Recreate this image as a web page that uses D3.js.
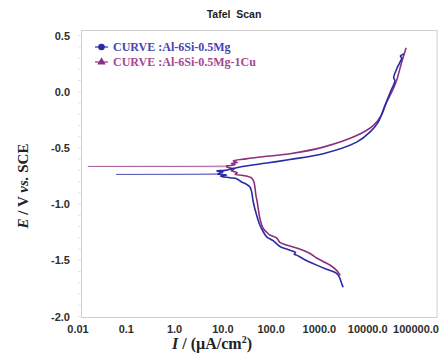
<!DOCTYPE html>
<html><head><meta charset="utf-8">
<script src="https://cdn.jsdelivr.net/npm/d3@7"></script>
<style>html,body{margin:0;padding:0;background:#fff;}svg{display:block;}</style>
</head><body>
<svg id="c" width="446" height="354"></svg>
<script>
// ---- data: [current density µA/cm², potential V vs SCE] ----
const seriesNames = ["CURVE :Al-6Si-0.5Mg", "CURVE :Al-6Si-0.5Mg-1Cu"];
const xTickValues = [0.01, 0.1, 1, 10, 100, 1000, 10000, 100000];
const xTickLabels = ["0.01", "0.1", "1.0", "10.0", "100.0", "1000.0", "10000.0", "100000.0"];
const yTickValues = [0.5, 0.0, -0.5, -1.0, -1.5, -2.0];
const yTickLabels = ["0.5", "0.0", "-0.5", "-1.0", "-1.5", "-2.0"];

const blueCathodic = [[3069,-1.734],[2800,-1.690],[2655,-1.660],[2270,-1.616],[1400,-1.580],[875,-1.543],[500,-1.495],[337,-1.454],[300,-1.447],[320,-1.430],[245,-1.410],[152,-1.377],[110,-1.325],[81,-1.291],[68.6,-1.246],[58.6,-1.188],[50.1,-1.099],[42.6,-0.981],[39.5,-0.892],[36.4,-0.848],[31.1,-0.824],[24.5,-0.803],[19.3,-0.774],[14,-0.765],[9,-0.752],[12,-0.742],[8,-0.735]];
const blueTail = [[8,-0.735],[3,-0.736],[0.6,-0.736],[0.061,-0.736],[0.4,-0.735],[3,-0.733],[8,-0.730]];
const blueAnodic = [[8,-0.730],[10,-0.715],[7.5,-0.705],[11,-0.700],[14,-0.690],[22.6,-0.670],[81,-0.635],[245,-0.603],[1199,-0.552],[5890,-0.449],[11100,-0.360],[16500,-0.271],[22700,-0.124],[31300,0.024],[33700,0.053],[36600,0.098],[34500,0.125],[39600,0.200],[42800,0.232],[50400,0.300],[47500,0.318],[54300,0.334]];

const purpleCathodic = [[2655,-1.630],[2270,-1.590],[1649,-1.542],[875,-1.480],[636,-1.439],[337,-1.390],[152,-1.340],[130,-1.300],[94,-1.275],[81,-1.250],[68.6,-1.217],[58.6,-1.129],[54,-1.040],[51.5,-0.981],[48.4,-0.922],[44,-0.803],[39.5,-0.768],[26.4,-0.745],[18,-0.735],[20,-0.720],[15,-0.705],[17,-0.690],[13,-0.675],[12,-0.668]];
const purpleTail = [[12,-0.668],[2,-0.666],[0.3,-0.665],[0.016,-0.665],[0.2,-0.664],[3,-0.663],[12,-0.660]];
const purpleAnodic = [[12,-0.660],[18,-0.650],[15,-0.640],[20,-0.630],[16.4,-0.615],[30,-0.598],[81,-0.575],[245,-0.552],[1199,-0.493],[5890,-0.390],[13000,-0.301],[19000,-0.213],[24600,-0.094],[33700,0.024],[39600,0.100],[50400,0.261],[61800,0.385]];

const colors = ["#2a2aa6", "#8c2f7e"];
const legendTextColors = ["#4545b0", "#a44892"];

const svg = d3.select("#c");
const x = d3.scaleLog().domain([0.01, 100000]).range([78, 416]);
const y = d3.scaleLinear().domain([-2, 0.5]).range([316.5, 35.5]);

// frame
svg.append("rect").attr("x", 81.5).attr("y", 30.5).attr("width", 355.5).attr("height", 287)
  .attr("fill", "none").attr("stroke", "#cfcfcf").attr("stroke-width", 1);

// faint minor ticks on left axis
const minor = d3.range(-2, 0.51, 0.1);
svg.selectAll(".mt").data(minor).enter().append("line")
  .attr("x1", 78).attr("x2", 81.5)
  .attr("y1", d => y(d)).attr("y2", d => y(d))
  .attr("stroke", "#e2e2e2");

// y tick labels
svg.selectAll(".yl").data(yTickValues).enter().append("text")
  .attr("x", 70).attr("y", d => y(d) + 4)
  .attr("text-anchor", "end")
  .attr("font-family", "Liberation Sans, Arial, sans-serif")
  .attr("font-weight", "bold").attr("font-size", 11).attr("fill", "#2e2e2e")
  .text((d, i) => yTickLabels[i]);

// x tick labels
svg.selectAll(".xl").data(xTickValues).enter().append("text")
  .attr("x", d => x(d)).attr("y", 333)
  .attr("text-anchor", "middle")
  .attr("font-family", "Liberation Sans, Arial, sans-serif")
  .attr("font-weight", "bold").attr("font-size", 11).attr("fill", "#2e2e2e")
  .text((d, i) => xTickLabels[i]);

// title
svg.append("text").attr("x", 234).attr("y", 18).attr("text-anchor", "middle")
  .attr("font-family", "Liberation Sans, Arial, sans-serif")
  .attr("font-weight", "bold").attr("font-size", 10.5).attr("fill", "#222")
  .attr("xml:space", "preserve").style("white-space", "pre")
  .text("Tafel  Scan");

// axis titles
const yt = svg.append("text").attr("transform", "translate(28,186) rotate(-90)")
  .attr("text-anchor", "middle")
  .attr("font-family", "Liberation Serif, Times New Roman, serif")
  .attr("font-weight", "bold").attr("font-size", 15).attr("fill", "#222");
yt.append("tspan").attr("font-style", "italic").text("E");
yt.append("tspan").text(" / V ");
yt.append("tspan").attr("font-style", "italic").text("vs.");
yt.append("tspan").text(" SCE");

const xt = svg.append("text").attr("x", 212).attr("y", 349)
  .attr("text-anchor", "middle")
  .attr("font-family", "Liberation Serif, Times New Roman, serif")
  .attr("font-weight", "bold").attr("font-size", 16).attr("fill", "#222");
xt.append("tspan").attr("font-style", "italic").text("I");
xt.append("tspan").text(" / (µA/cm");
xt.append("tspan").attr("font-size", 10).attr("dy", -6).text("2");
xt.append("tspan").attr("dy", 6).text(")");

// curves
const smooth = d3.line().x(d => x(d[0])).y(d => y(d[1])).curve(d3.curveCatmullRom.alpha(0.5));
const g = svg.append("g");
function draw(data, color, w, op) {
  g.append("path").datum(data).attr("d", smooth).attr("fill", "none")
    .attr("stroke", color).attr("stroke-width", w).attr("stroke-opacity", op)
    .attr("stroke-linejoin", "round").attr("stroke-linecap", "round");
}
draw(purpleTail, colors[1], 1, 0.55);
draw(blueTail, colors[0], 1, 0.55);
draw(purpleCathodic, colors[1], 1.6, 1);
draw(purpleAnodic, colors[1], 1.6, 1);
draw(blueCathodic, colors[0], 1.6, 1);
draw(blueAnodic, colors[0], 1.6, 1);

// legend
const lg = svg.append("g");
[0, 1].forEach(i => {
  const yy = 47 + i * 15;
  lg.append("line").attr("x1", 95).attr("x2", 108).attr("y1", yy).attr("y2", yy)
    .attr("stroke", colors[i]).attr("stroke-width", 1.2);
  if (i === 0) {
    lg.append("circle").attr("cx", 101.5).attr("cy", yy).attr("r", 3.3).attr("fill", colors[i]);
  } else {
    lg.append("path").attr("d", d3.symbol().type(d3.symbolTriangle).size(30)())
      .attr("transform", `translate(101.5,${yy})`).attr("fill", colors[i]);
  }
  lg.append("text").attr("x", 113).attr("y", yy + 4)
    .attr("font-family", "Liberation Serif, Times New Roman, serif")
    .attr("font-weight", "bold").attr("font-size", 12).attr("fill", legendTextColors[i])
    .text(seriesNames[i]);
});
</script>
</body></html>
